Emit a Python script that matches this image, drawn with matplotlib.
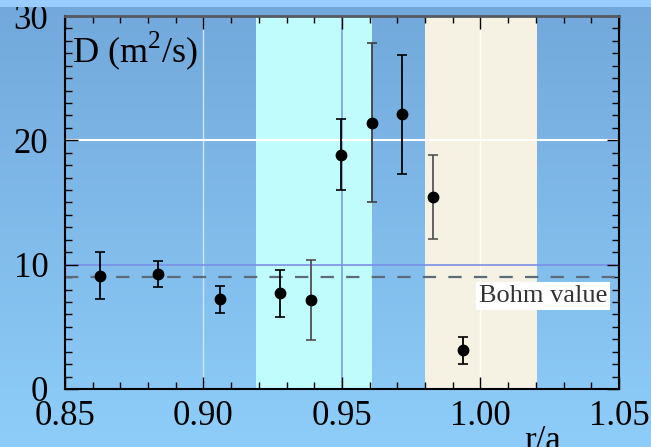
import numpy as np
import matplotlib
matplotlib.use('Agg')
import matplotlib.pyplot as plt
from matplotlib.patches import Rectangle
from matplotlib.ticker import MultipleLocator

plt.rcParams['font.family'] = ['Liberation Serif', 'DejaVu Serif']
plt.rcParams['mathtext.fontset'] = 'custom'
plt.rcParams['mathtext.rm'] = 'Liberation Serif'

# measured diffusion coefficient vs normalised radius
r_a = [0.8626, 0.8837, 0.9058, 0.9277, 0.9387, 0.9498, 0.9607, 0.9718, 0.9829, 0.9937]
D = [9.1, 9.25, 7.2, 7.7, 7.15, 18.85, 21.4, 22.1, 15.45, 3.1]
D_err = [1.9, 1.07, 1.1, 1.9, 3.25, 2.84, 6.4, 4.8, 3.38, 1.1]
bar_colors = ['black', 'black', 'black', 'black', '#505050',
              'black', '#404040', 'black', '#555555', 'black']

bohm = 9.0
cyan_band = (0.919, 0.961)
beige_band = (0.980, 1.0205)
x_ticks = [0.85, 0.90, 0.95, 1.00, 1.05]
y_ticks = [0, 10, 20, 30]

fig = plt.figure(figsize=(6.51, 4.47), dpi=100)

# background gradient over the whole figure
bg = fig.add_axes([0, 0, 1, 1], zorder=-1)
grad = np.linspace(0, 1, 256).reshape(-1, 1)
top_c = np.array([0x72, 0xa8, 0xdb]) / 255
bot_c = np.array([0x8e, 0xcd, 0xf9]) / 255
img = top_c * (1 - grad[..., None]) + bot_c * grad[..., None]
bg.imshow(img, aspect='auto', extent=[0, 1, 0, 1])
bg.set_axis_off()

ax = fig.add_axes([0.0998, 0.1298, 0.851, 0.8344])
ax.set_facecolor('none')

ax.axvspan(*cyan_band, color='#c0fcfc', zorder=0, lw=0)
ax.axvspan(*beige_band, color='#f5f2e3', zorder=0, lw=0)

# grid-like reference lines
ax.axvline(0.90, color='#cfe6fa', lw=1, zorder=1)
ax.axvline(0.95, color='#7f9ee6', lw=1.2, zorder=1)
ax.axvline(1.00, color='white', lw=1, alpha=0.8, zorder=1)
ax.axhline(10, color='#7b8fe6', lw=1.2, zorder=1)
ax.axhline(20, color='white', lw=1.5, zorder=1)

ax.axhline(bohm, color='#5c6b7a', lw=1.6, dashes=(6.0, 5.5), zorder=2)
ax.text(1.0226, 7.45, 'Bohm value', fontsize=19, color='#333333',
        ha='center', va='center', zorder=3,
        bbox=dict(facecolor='white', edgecolor='none', pad=2))

for x, y, e, c in zip(r_a, D, D_err, bar_colors):
    ax.errorbar(x, y, yerr=e, fmt='none', ecolor=c, elinewidth=1.3,
                capsize=3.5, capthick=1.2, zorder=4)
ax.plot(r_a, D, 'o', color='black', ms=7.5, zorder=5)

ax.set_xlim(0.85, 1.05)
ax.set_ylim(0, 30)
ax.set_xticks(x_ticks)
ax.set_xticklabels([f'{t:.2f}' for t in x_ticks])
ax.set_yticks(y_ticks)
ax.xaxis.set_minor_locator(MultipleLocator(0.01))
ax.yaxis.set_minor_locator(MultipleLocator(1))
ax.tick_params(which='both', direction='in', top=True, right=True,
               labelsize=25, width=1, color='black')
ax.tick_params(which='major', length=9)
ax.tick_params(which='minor', length=5)
ax.tick_params(axis='x', pad=8)
ax.tick_params(axis='y', pad=12)
for s in ['left', 'bottom', 'right']:
    ax.spines[s].set_linewidth(1.5)
ax.spines['top'].set_linewidth(2)
ax.spines['top'].set_color('#555a60')

ax.text(0.013, 0.965, 'D (m$^{2}$/s)', transform=ax.transAxes, fontsize=26,
        ha='left', va='top')
fig.text(543 / 651, -3 / 447, 'r/a', fontsize=25, ha='center', va='baseline')

# light strip along the top edge
fig.patches.append(Rectangle((0, 1 - 7 / 447), 1, 7 / 447, transform=fig.transFigure,
                             facecolor='#99ccff', edgecolor='none', zorder=10))

fig.savefig('out.png', dpi=100)
